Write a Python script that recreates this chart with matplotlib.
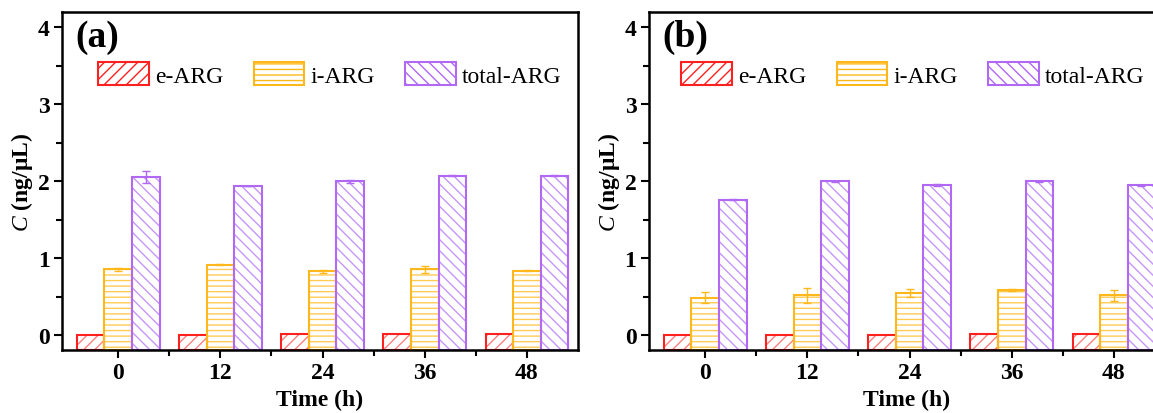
import numpy as np
import matplotlib.pyplot as plt

plt.rcParams['font.family'] = ['Liberation Serif', 'DejaVu Serif']
plt.rcParams['mathtext.fontset'] = 'custom'
plt.rcParams['mathtext.it'] = 'Liberation Serif:italic'
plt.rcParams['mathtext.rm'] = 'Liberation Serif:bold'
plt.rcParams['hatch.linewidth'] = 1.0

times = ['0', '12', '24', '36', '48']
series = ['e-ARG', 'i-ARG', 'total-ARG']

# panel (a)
a_e = [0.005, 0.005, 0.015, 0.015, 0.015]
a_i = [0.86, 0.92, 0.83, 0.86, 0.84]
a_i_err = [0.02, 0.01, 0.025, 0.045, 0.01]
a_t = [2.06, 1.94, 2.00, 2.075, 2.075]
a_t_err = [0.075, 0.005, 0.015, 0.005, 0.01]

# panel (b)
b_e = [0.005, 0.005, 0.005, 0.017, 0.017]
b_i = [0.49, 0.52, 0.55, 0.59, 0.52]
b_i_err = [0.07, 0.10, 0.05, 0.01, 0.07]
b_t = [1.76, 2.00, 1.95, 2.00, 1.95]
b_t_err = [0.005, 0.005, 0.015, 0.005, 0.005]

colors = ['#FF2020', '#FFB81C', '#B068F5']
hatch_colors = ['#FF8080', '#FFCB55', '#C796F7']
hatches = ['///', '---', '\\\\\\']

ymin, ymax = -0.19, 4.2

fig = plt.figure(figsize=(11.53, 4.14), dpi=100)
ax1 = fig.add_axes([62 / 1153, 63 / 414, 516 / 1153, 338 / 414])
ax2 = fig.add_axes([649 / 1153, 63 / 414, 516 / 1153, 338 / 414])

x = np.arange(len(times))
w = 0.27


def draw(ax, e, i, i_err, t, t_err, label, leg_x):
    vals = [e, i, t]
    errs = [None, i_err, t_err]
    handles = []
    for k in range(3):
        pos = x + (k - 1) * w
        v = np.array(vals[k])
        # bars rise from the axis floor, as in the original Origin plot
        ax.bar(pos, v - ymin, w, bottom=ymin, color='white',
               edgecolor=hatch_colors[k], hatch=hatches[k], linewidth=0,
               zorder=2)
        ax.bar(pos, v - ymin, w, bottom=ymin, fill=False,
               edgecolor=colors[k], linewidth=1.5, zorder=2.5)
        if errs[k] is not None:
            ax.errorbar(pos, v, yerr=errs[k], fmt='none',
                        ecolor=colors[k], elinewidth=1, capsize=3,
                        capthick=1, zorder=3)
        h = plt.Rectangle((0, 0), 1, 1, facecolor='white',
                          edgecolor=colors[k], hatch=hatches[k], linewidth=1.5)
        handles.append(h)
    ax.set_xlim(-0.55, 4.5)
    ax.set_ylim(ymin, ymax)
    ax.set_xticks(x)
    ax.set_xticklabels(times)
    ax.set_xticks(x[:-1] + 0.5, minor=True)
    ax.set_yticks([0, 1, 2, 3, 4])
    ax.set_yticks([0.5, 1.5, 2.5, 3.5], minor=True)
    ax.tick_params(which='major', direction='out', length=6, width=1.5,
                   labelsize=17, pad=3)
    ax.tick_params(which='minor', direction='out', length=4, width=1.5)
    for lab in ax.get_xticklabels() + ax.get_yticklabels():
        lab.set_fontweight('bold')
    for s in ax.spines.values():
        s.set_linewidth(1.8)
        s.set_zorder(4)
    ax.set_xlabel('Time (h)', fontsize=17, fontweight='bold', labelpad=4)
    ax.set_ylabel('$C$ (ng/μL)', fontsize=17, fontweight='bold', labelpad=2)
    ax.text(0.025, 0.98, label, transform=ax.transAxes, fontsize=27,
            fontweight='bold', va='top', ha='left')
    ax.legend(handles, series, loc='upper left', bbox_to_anchor=(leg_x, 0.852),
              ncol=3, frameon=False, fontsize=17, handlelength=2.15,
              handleheight=1.15, columnspacing=1.3, handletextpad=0.25,
              borderpad=0, borderaxespad=0)


draw(ax1, a_e, a_i, a_i_err, a_t, a_t_err, '(a)', 0.07)
draw(ax2, b_e, b_i, b_i_err, b_t, b_t_err, '(b)', 0.062)

fig.savefig('out.png', dpi=100)
